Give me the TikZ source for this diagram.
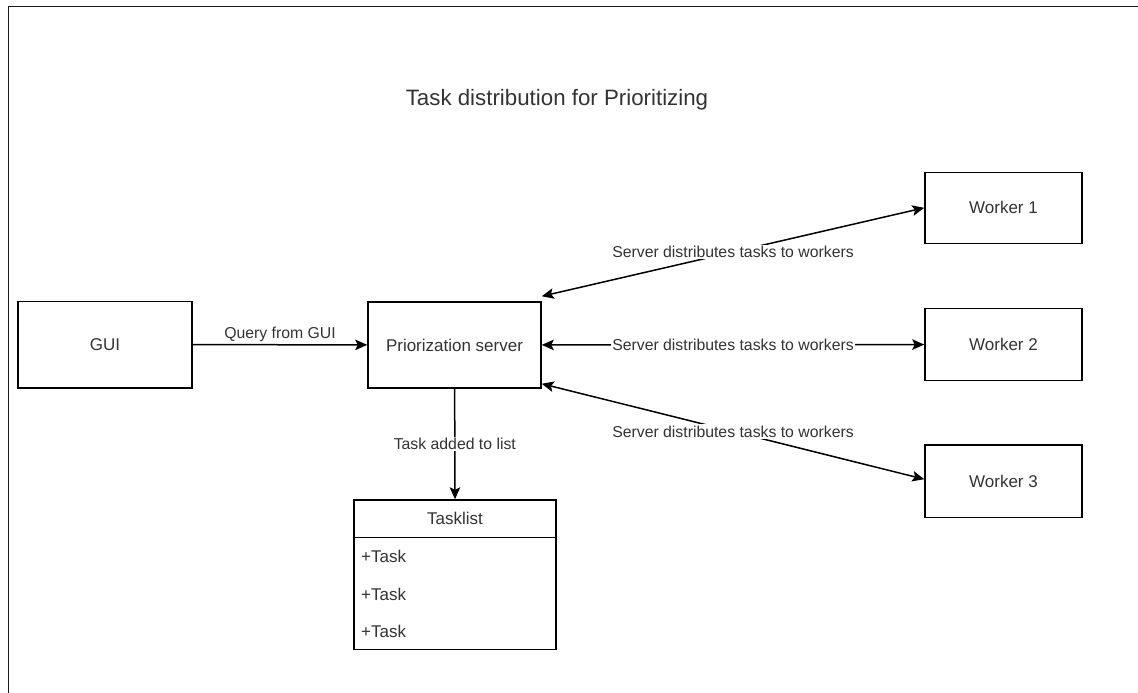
\documentclass[tikz,border=0pt]{standalone}
\usepackage{fontspec}
\setmainfont{Liberation Sans}
\usetikzlibrary{arrows.meta,calc}
\definecolor{txt}{HTML}{333333}
\begin{document}
\begin{tikzpicture}[x=1pt,y=-1pt,
  box/.style={draw=black, line width=1.5pt, inner sep=0pt, text=txt,
    font=\fontsize{17}{20}\selectfont},
  plain/.style={inner sep=0pt, text=txt, font=\fontsize{17}{20}\selectfont},
  lbl/.style={fill=white, inner sep=1.5pt, text=txt, font=\fontsize{15.8}{18}\selectfont},
  conn/.style={line width=1.5pt, draw=black},
  tip/.tip={Stealth[length=12pt,width=10.5pt,inset=2.5pt]}
]
\useasboundingbox (0,0) rectangle (1138,693);
\draw[line width=1.8pt, black!90] (1138,6.5) -- (8.5,6.5) -- (8.5,693);

\node[text=txt, font=\fontsize{22.3}{26}\selectfont] (title) at (557,100) {Task distribution for Prioritizing};

\node[box, minimum width=174pt, minimum height=86.5pt] (gui) at (105,344.5) {GUI};
\node[box, minimum width=173pt, minimum height=86pt] (srv) at (454.5,345) {Priorization server};
\node[box, minimum width=157pt, minimum height=71pt] (w1) at (1003.5,207.8) {Worker 1};
\node[box, minimum width=157pt, minimum height=72.4pt] (w2) at (1003.5,344.5) {Worker 2};
\node[box, minimum width=157pt, minimum height=72.3pt] (w3) at (1003.5,481.2) {Worker 3};

\node[box, minimum width=202pt, minimum height=149.3pt] (tl) at (455,574.7) {};
\node[plain] (tlh) at (455,518.7) {Tasklist};
\coordinate (sepl) at (354,537.3);
\coordinate (sepr) at (556,537.3);
\draw[line width=1.5pt] (sepl) -- (sepr);
\node[plain, anchor=west] (t1) at (361,556.7) {+Task};
\node[plain, anchor=west] (t2) at (361,594) {+Task};
\node[plain, anchor=west] (t3) at (361,631.7) {+Task};

\draw[conn, -tip] (gui) -- node[lbl, fill=none, above, yshift=1pt] {Query from GUI} (srv);
\draw[conn, -tip] (srv) -- node[lbl] {Task added to list} (tl.north);
\draw[conn, tip-tip] ([yshift=5pt]srv.north east) -- node[lbl] {Server distributes tasks to workers} (w1.west);
\draw[conn, tip-tip] (srv) -- node[lbl] {Server distributes tasks to workers} (w2);
\draw[conn, tip-tip] ([yshift=5pt]srv.south east) -- node[lbl] {Server distributes tasks to workers} ([yshift=2pt]w3.west);
\end{tikzpicture}
\end{document}
